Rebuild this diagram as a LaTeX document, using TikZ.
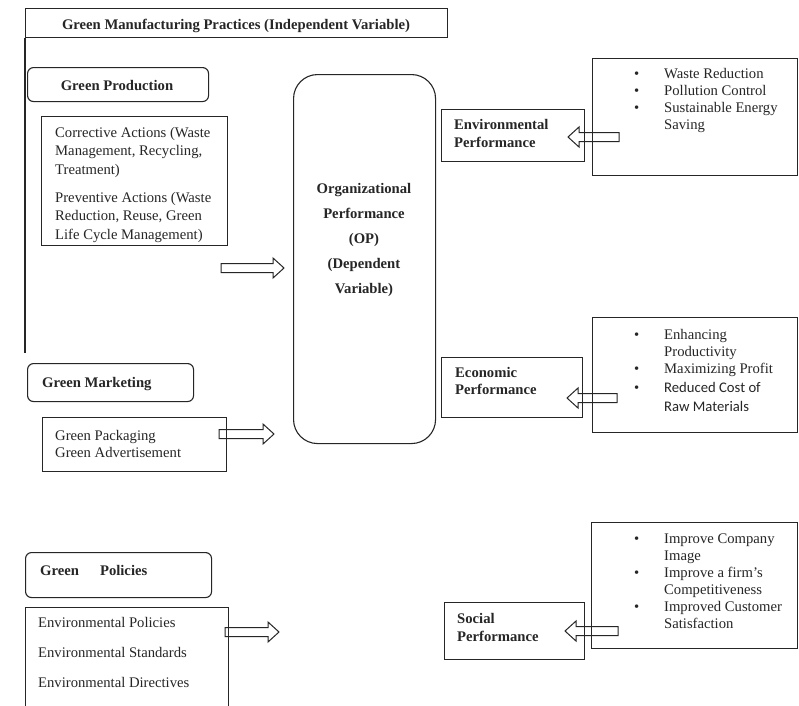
\documentclass[tikz,border=0pt]{standalone}
\usepackage{fontspec}
\setmainfont{Liberation Serif}
\newfontfamily\carlito{Carlito}
\usetikzlibrary{calc}
\newcommand\fsz[1]{\fontsize{14.67}{#1}\selectfont}
\newcommand\mkbox[6]{\node[#1, anchor=north west, minimum width={#5-#3}, minimum height={#6-#4}] (#2) at (#3,#4) {};}
\newcommand\blockarrow[2]{\draw[barrow] let \p1=(#1), \p2=(#2), \n1={((\x2>\x1)*2-1)*11} in
 (\x1,{\y1+4.5pt}) -- ({\x2-\n1*1pt},{\y1+4.5pt}) -- ({\x2-\n1*1pt},{\y1+10pt}) -- (\x2,\y1)
 -- ({\x2-\n1*1pt},{\y1-10pt}) -- ({\x2-\n1*1pt},{\y1-4.5pt}) -- (\x1,{\y1-4.5pt}) -- cycle;}
\newcommand\bul{\makebox[30pt][l]{\textbullet}}
\newcommand\nobul{\hspace*{30pt}}
\tikzset{
  boxst/.style={draw=black!85, line width=1.1pt, inner sep=0pt},
  rbox/.style={boxst, rounded corners=6pt},
  opbox/.style={boxst, rounded corners=24pt},
  barrow/.style={draw=black!85, line width=1pt, line join=miter},
  txt/.style={inner sep=0pt, anchor=north west, align=left, text=black!85},
  btxt/.style={txt, font=\bfseries\fsz{18}},
}
\begin{document}
\begin{tikzpicture}[x=1pt, y=-1pt]
\fill[white] (0,0) rectangle (799,705);
\useasboundingbox (0,0) rectangle (799,705);
\clip (0,0) rectangle (799,705);

% ---- left column ----
\mkbox{boxst}{title}{25}{8}{447}{37}
\node[inner sep=0pt, anchor=base, text=black!85, font=\bfseries\fsz{17}] (tTitle) at (236,29) {Green Manufacturing Practices (Independent Variable)};
\coordinate (vend) at (25,353);
\draw[boxst] (title.south west) -- (vend);

\mkbox{rbox}{gprod}{27}{67}{208}{101}
\node[inner sep=0pt, anchor=base, text=black!85, font=\bfseries\fsz{17}] (tGprod) at (117,90) {Green Production};

\mkbox{boxst}{corr}{41}{116}{227}{245}
\node[txt, font=\fsz{18.5}] (tCorr) at (55,124.05) {\strut Corrective Actions (Waste\\Management, Recycling,\\Treatment)\\[9.5pt]Preventive Actions (Waste\\Reduction, Reuse, Green\\Life Cycle Management)};

\mkbox{rbox}{gmkt}{27}{363}{193}{401}
\node[inner sep=0pt, anchor=base west, text=black!85, font=\bfseries\fsz{17}] (tGmkt) at (42,387) {Green Marketing};

\mkbox{boxst}{gpack}{42}{417}{226}{471}
\node[txt, font=\fsz{17}] (tGpack) at (55,428.1) {\strut Green Packaging\\Green Advertisement};

\mkbox{rbox}{gpol}{25}{552}{211}{597}
\node[inner sep=0pt, anchor=base west, text=black!85, font=\bfseries\fsz{17}] (tGpol) at (40,575) {Green\hspace{21pt}Policies};

\mkbox{boxst}{epol}{25}{607}{228}{712}
\node[txt, font=\fsz{30}] (tEpol) at (38,606) {\strut Environmental Policies\\Environmental Standards\\Environmental Directives};

% ---- centre ----
\mkbox{opbox}{op}{293}{74}{435}{443}
\node[inner sep=0pt, anchor=north, align=center, text=black!85, font=\bfseries\fsz{25}] (tOp) at (364,175.5) {\strut Organizational\\Performance\\(OP)\\(Dependent\\Variable)};

\coordinate (a1s) at (221,268); \coordinate (a1e) at (284,268);
\coordinate (a2s) at (219,434); \coordinate (a2e) at (274,434);
\coordinate (a3s) at (225,632); \coordinate (a3e) at (279,632);
\blockarrow{a1s}{a1e}
\blockarrow{a2s}{a2e}
\blockarrow{a3s}{a3e}

% ---- right column ----
\mkbox{boxst}{envp}{441}{109}{584}{161}
\node[btxt] (tEnvp) at (454,116.4) {\strut Environmental\\Performance};
\mkbox{boxst}{envl}{592}{58}{797}{175}
\node[txt, font=\fsz{17}] (tEnvl) at (634,66.1) {\strut\bul Waste Reduction\\\bul Pollution Control\\\bul Sustainable Energy\\\nobul Saving};

\mkbox{boxst}{ecop}{441}{357}{582}{417}
\node[txt, font=\bfseries\fsz{17}] (tEcop) at (455,365.1) {\strut Economic\\Performance};
\mkbox{boxst}{ecol}{592}{317}{797}{432}
\node[txt, font=\fsz{17}] (tEcol) at (634,327.1) {\strut\bul Enhancing\\\nobul Productivity\\\bul Maximizing Profit\\[2pt]\bul {\carlito Reduced Cost of}\\[2pt]\nobul {\carlito Raw Materials}};

\mkbox{boxst}{socp}{444}{602}{584}{659}
\node[btxt] (tSocp) at (457,610.4) {\strut Social\\Performance};
\mkbox{boxst}{socl}{591}{522}{797}{648}
\node[txt, font=\fsz{17}] (tSocl) at (634,531.1) {\strut\bul Improve Company\\\nobul Image\\\bul Improve a firm’s\\\nobul Competitiveness\\\bul Improved Customer\\\nobul Satisfaction};

\coordinate (b1s) at (619,137); \coordinate (b1e) at (568,137);
\coordinate (b2s) at (617,398); \coordinate (b2e) at (567,398);
\coordinate (b3s) at (618,631); \coordinate (b3e) at (565,631);
\blockarrow{b1s}{b1e}
\blockarrow{b2s}{b2e}
\blockarrow{b3s}{b3e}
\end{tikzpicture}
\end{document}
